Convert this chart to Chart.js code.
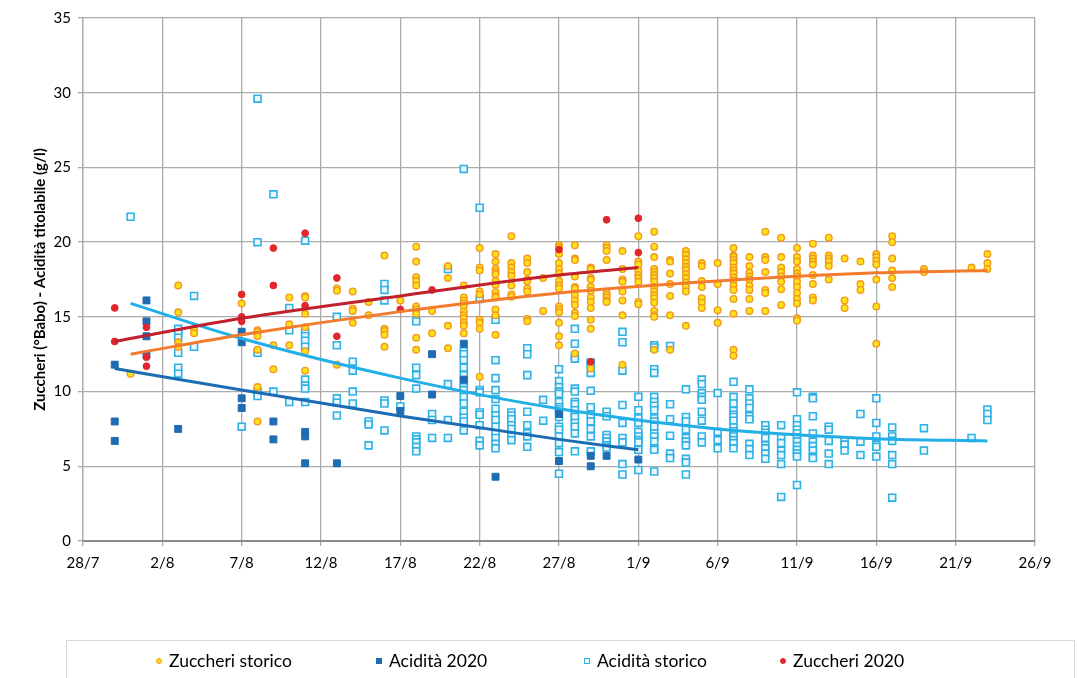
<!DOCTYPE html>
<html>
<head>
<meta charset="utf-8">
<script src="https://cdn.jsdelivr.net/npm/chart.js@4"></script>
<style>
  body { margin: 0; background: #fff; overflow: hidden; }
  #wrap { position: relative; width: 1078px; height: 678px; }
  #legend {
    position: absolute; left: 66px; top: 640px; width: 1009px; height: 60px;
    border: 1px solid #d9d9d9; box-sizing: border-box;
    display: flex; align-items: flex-start; padding: 9px 0 0 89px;
    font-family: Lato, "Open Sans", sans-serif; font-size: 17.5px; color: #000;
  }
  #legend .item { display: flex; align-items: center; white-space: nowrap; }
  #legend .mark { width: 6px; height: 6px; margin-right: 7px; box-sizing: border-box; }
</style>
</head>
<body>
<div id="wrap">
  <canvas id="mainChart" width="1078" height="678"></canvas>
  <div id="legend"></div>
</div>
<script>
// --- Data ---
const xTickLabels = ['28/7', '2/8', '7/8', '12/8', '17/8', '22/8', '27/8', '1/9', '6/9', '11/9', '16/9', '21/9', '26/9'];

// Zuccheri storico
const zsDates = ['31/7', '3/8', '4/8', '7/8', '8/8', '9/8', '10/8', '11/8', '13/8', '14/8', '15/8', '16/8', '17/8',
    '18/8', '19/8', '20/8', '21/8', '22/8', '23/8', '24/8', '25/8', '26/8', '27/8', '28/8', '29/8', '30/8', '31/8',
    '1/9', '2/9', '3/9', '4/9', '5/9', '6/9', '7/9', '8/9', '9/9', '10/9', '11/9', '12/9', '13/9', '14/9', '15/9',
    '16/9', '17/9', '19/9', '22/9', '23/9'];
const zsValues = [
    [11.2],
    [17.1, 15.3, 13.3, 13.0],
    [14.2, 13.9],
    [15.9],
    [14.1, 14.0, 13.7, 12.8, 10.3, 8.0],
    [13.1, 11.5],
    [16.3, 14.5, 13.1],
    [16.4, 16.3, 15.2, 14.3, 12.7, 11.4],
    [16.9, 16.75, 11.8],
    [16.7, 15.55, 15.4, 14.6],
    [16.0, 15.1],
    [19.1, 14.2, 14.05, 13.8, 13.0],
    [16.1],
    [19.7, 18.7, 17.65, 17.4, 17.1, 15.7, 15.5, 15.2, 13.6, 12.8],
    [15.4, 13.9],
    [18.4, 17.6, 14.4, 12.9],
    [17.1, 16.3, 16.1, 15.9, 15.75, 15.35, 15.1, 14.9, 14.6, 14.4, 13.9],
    [19.6, 18.3, 18.1, 16.7, 16.5, 14.8, 14.6, 14.2, 11.0],
    [19.2, 18.7, 18.2, 18.0, 17.85, 17.4, 17.15, 16.65, 16.4, 16.3, 15.5, 15.1, 13.8],
    [20.4, 18.6, 18.3, 18.0, 17.75, 17.1, 16.5, 16.35],
    [18.9, 18.6, 18.0, 17.5, 17.4, 16.9, 16.7, 14.85, 14.7],
    [17.6, 15.4],
    [19.8, 19.65, 19.2, 18.6, 18.2, 17.9, 17.4, 17.1, 16.9, 15.7, 15.5, 15.3, 14.6, 13.7, 13.1],
    [19.8, 18.9, 18.8, 17.7, 17.0, 16.9, 16.45, 16.1, 15.8, 15.25, 15.05, 12.55],
    [18.3, 18.2, 17.6, 17.5, 17.0, 16.75, 16.3, 16.0, 15.6, 14.8, 14.2, 11.55],
    [19.8, 19.6, 19.4, 18.8, 16.6, 16.45, 16.3, 16.1, 16.0],
    [19.4, 18.2, 17.5, 17.35, 16.7, 16.1, 15.1, 11.8],
    [20.4, 18.7, 18.5, 18.1, 17.8, 17.6, 17.35, 16.0, 15.85],
    [20.7, 19.7, 19.0, 18.2, 18.0, 17.8, 17.6, 17.35, 17.0, 16.7, 16.45, 16.25, 15.95, 15.4, 15.1, 15.0, 12.8],
    [18.8, 18.7, 17.9, 17.2, 16.4, 15.1, 12.8],
    [19.4, 19.15, 18.85, 18.6, 18.35, 18.15, 17.85, 17.6, 17.3, 17.0, 16.7, 14.4],
    [18.6, 18.4, 17.4, 17.0, 16.25, 15.95, 15.6],
    [18.6, 17.2, 15.45, 14.6],
    [19.6, 19.1, 19.0, 18.8, 18.6, 18.3, 18.1, 17.9, 17.65, 17.45, 17.1, 16.8, 16.2, 15.2, 12.8, 12.4],
    [19.0, 18.4, 17.95, 17.7, 17.5, 17.1, 16.8, 16.2, 15.4],
    [20.7, 19.0, 18.8, 18.0, 16.8, 16.6, 15.4],
    [20.3, 19.0, 18.3, 18.0, 17.7, 17.35, 16.85, 15.8],
    [19.6, 19.0, 18.7, 18.2, 17.9, 17.7, 17.35, 17.0, 16.6, 16.2, 15.9, 14.9, 14.75],
    [19.9, 19.1, 18.9, 18.7, 18.5, 17.8, 17.2, 16.3, 16.1],
    [20.3, 19.1, 18.9, 18.7, 18.4, 17.5],
    [18.9, 16.1, 15.6],
    [18.7, 17.2, 16.8],
    [19.2, 19.0, 18.75, 18.5, 17.5, 15.7, 13.2],
    [20.4, 20.0, 18.9, 18.1, 17.6, 17.0],
    [18.2, 18.0],
    [18.3],
    [19.2, 18.6, 18.2]
];

// Acidità 2020
const a20Dates = ['30/7', '1/8', '3/8', '7/8', '9/8', '11/8', '13/8', '17/8', '19/8', '21/8', '23/8', '27/8', '29/8', '30/8', '1/9'];
const a20Values = [
    [11.8, 8.0, 6.7],
    [16.1, 14.7, 13.7, 12.45],
    [7.5],
    [14.0, 13.3, 9.55, 8.9],
    [8.0, 6.8],
    [7.3, 7.0, 5.2],
    [5.2],
    [9.7, 8.7],
    [12.5, 9.8],
    [13.2, 10.8],
    [4.3],
    [8.5, 5.35],
    [5.7, 5.0],
    [5.7],
    [5.45]
];

// Acidità storico
const asDates = ['31/7', '3/8', '4/8', '7/8', '8/8', '9/8', '10/8', '11/8', '13/8', '14/8', '15/8', '16/8', '17/8',
    '18/8', '19/8', '20/8', '21/8', '22/8', '23/8', '24/8', '25/8', '26/8', '27/8', '28/8', '29/8', '30/8', '31/8',
    '1/9', '2/9', '3/9', '4/9', '5/9', '6/9', '7/9', '8/9', '9/9', '10/9', '11/9', '12/9', '13/9', '14/9', '15/9',
    '16/9', '17/9', '19/9', '22/9', '23/9'];
const asValues = [
    [21.7],
    [14.2, 13.9, 13.6, 12.6, 11.6, 11.2],
    [16.4, 13.0],
    [7.65],
    [29.6, 20.0, 12.6, 10.0, 9.7],
    [23.2, 10.0],
    [15.6, 14.1, 9.3],
    [20.1, 14.0, 13.7, 13.4, 13.0, 10.8, 10.4, 10.2, 9.3],
    [15.0, 13.1, 9.55, 9.25, 8.4],
    [12.0, 11.4, 10.0, 9.2],
    [8.0, 7.8, 6.4],
    [17.2, 16.8, 16.1, 9.4, 9.2, 7.4],
    [9.0],
    [14.7, 11.6, 11.1, 10.2, 7.0, 6.8, 6.6, 6.3, 6.0],
    [8.5, 8.1, 6.9],
    [18.2, 10.5, 8.1, 6.9],
    [24.9, 12.7, 12.5, 12.1, 11.6, 11.1, 10.55, 10.3, 10.1, 9.65, 9.2, 8.65, 8.25, 8.0, 7.4],
    [22.3, 16.2, 10.1, 9.95, 8.6, 8.45, 7.75, 6.7, 6.4],
    [14.8, 12.1, 10.9, 10.1, 9.5, 8.85, 8.4, 8.1, 7.65, 7.2, 6.9, 6.5, 6.2],
    [8.6, 8.4, 8.15, 7.75, 7.5, 7.0, 6.75],
    [12.9, 12.5, 11.1, 8.65, 7.75, 7.2, 7.0, 6.3],
    [9.45, 8.05],
    [11.5, 10.7, 10.3, 10.0, 9.85, 9.3, 8.95, 8.8, 8.3, 7.65, 7.45, 7.0, 6.55, 5.95, 4.5],
    [14.2, 13.2, 12.4, 12.2, 10.2, 10.0, 9.3, 9.15, 8.75, 8.45, 8.3, 7.9, 7.65, 7.2, 6.0],
    [11.95, 11.8, 11.25, 10.05, 8.95, 8.45, 8.0, 7.5, 7.0, 6.0],
    [8.65, 8.35, 7.1, 6.9, 6.65, 6.4, 6.25],
    [14.0, 13.3, 11.4, 9.1, 7.9, 6.9, 6.6, 5.15, 4.45],
    [9.65, 8.75, 8.2, 7.9, 7.3, 7.0, 6.75, 6.6, 6.1, 4.75],
    [13.1, 12.95, 11.5, 11.25, 9.65, 9.3, 9.05, 8.75, 8.2, 8.0, 7.65, 7.2, 7.0, 6.65, 6.2, 6.1, 4.65],
    [13.05, 9.15, 8.15, 7.05, 5.85, 5.55],
    [10.15, 8.3, 8.0, 7.45, 6.9, 6.65, 6.4, 5.5, 5.25, 4.45],
    [10.8, 10.5, 9.9, 9.65, 9.45, 8.65, 8.05, 7.0, 6.6],
    [9.9, 7.3, 6.75, 6.2],
    [10.65, 9.65, 9.2, 8.7, 8.45, 8.3, 8.05, 7.6, 7.35, 7.15, 7.0, 6.75, 6.55, 6.2],
    [10.15, 9.55, 9.2, 8.9, 8.35, 8.15, 6.5, 6.15, 5.75],
    [7.75, 7.45, 7.25, 6.9, 6.4, 6.2, 5.85, 5.5],
    [7.75, 6.9, 6.55, 6.05, 5.75, 5.15, 2.95],
    [9.95, 8.15, 7.75, 7.45, 7.2, 6.95, 6.65, 6.35, 6.1, 5.85, 5.65, 3.75],
    [9.65, 9.55, 8.35, 7.2, 6.65, 6.35, 6.05, 5.65, 5.55],
    [7.65, 7.45, 6.7, 5.85, 5.15],
    [6.7, 6.45, 6.05],
    [8.5, 6.65, 5.75],
    [9.55, 7.9, 7.0, 6.45, 6.3, 5.65],
    [7.6, 7.0, 6.7, 5.75, 5.15, 2.9],
    [7.55, 6.05],
    [6.9],
    [8.8, 8.5, 8.1]
];

// Zuccheri 2020
const z20Dates = ['30/7', '1/8', '7/8', '9/8', '11/8', '13/8', '17/8', '19/8', '27/8', '29/8', '30/8', '1/9'];
const z20Values = [
    [15.6, 13.35],
    [14.3, 12.3, 11.7],
    [16.5, 15.0, 14.7],
    [19.6, 17.1],
    [20.6, 15.75],
    [17.6, 13.7],
    [15.5],
    [16.8],
    [19.5],
    [12.0],
    [21.5],
    [21.6, 19.3]
];

// Trend lines
const zsTrendDates = ['31/7', '7/8', '17/8', '27/8', '6/9', '16/9', '23/9'];
const zsTrendValues = [12.5, 13.8, 15.35, 16.6, 17.4, 17.95, 18.1];
const z20TrendDates = ['30/7', '7/8', '17/8', '27/8', '1/9'];
const z20TrendValues = [13.35, 14.9, 16.4, 17.8, 18.3];
const a20TrendDates = ['30/7', '7/8', '17/8', '27/8', '1/9'];
const a20TrendValues = [11.55, 10.1, 8.37, 6.8, 6.1];
const asTrendDates = ['31/7', '7/8', '17/8', '27/8', '6/9', '16/9', '23/9'];
const asTrendValues = [15.9, 13.55, 10.9, 8.85, 7.5, 6.85, 6.7];

// --- Helpers ---
// days since 28/7
function dayOf(label) {
    const [d, m] = label.split('/').map(Number);
    if (m === 7) return d - 28;
    if (m === 8) return d + 3;
    return d + 34;
}

function toPoints(dates, values) {
    const pts = [];
    dates.forEach((dt, i) => {
        values[i].forEach(v => pts.push({ x: dayOf(dt), y: v }));
    });
    return pts;
}

function toLine(dates, values) {
    return dates.map((dt, i) => ({ x: dayOf(dt), y: values[i] }));
}

const FONT = 'Lato, "Open Sans", sans-serif';
const gridColor = '#ababab';

function trend(data, color) {
    return {
        type: 'line',
        label: '',
        data: data,
        borderColor: color,
        borderWidth: 3,
        pointRadius: 0,
        fill: false,
        cubicInterpolationMode: 'monotone',
        order: 0,
        isTrend: true
    };
}

const datasets = [
    {
        label: 'Zuccheri storico',
        data: toPoints(zsDates, zsValues),
        pointStyle: 'circle',
        pointRadius: 3.3,
        backgroundColor: '#FFE11A',
        borderColor: '#F2991F',
        borderWidth: 1.4,
        order: 3
    },
    {
        label: 'Acidità 2020',
        data: toPoints(a20Dates, a20Values),
        pointStyle: 'rect',
        pointRadius: 4.9,
        backgroundColor: '#1F6CB2',
        borderColor: '#1F6CB2',
        borderWidth: 1,
        order: 2
    },
    {
        label: 'Acidità storico',
        data: toPoints(asDates, asValues),
        pointStyle: 'rect',
        pointRadius: 4.9,
        backgroundColor: '#EAF7FD',
        borderColor: '#2FB1E5',
        borderWidth: 1.6,
        order: 4
    },
    {
        label: 'Zuccheri 2020',
        data: toPoints(z20Dates, z20Values),
        pointStyle: 'circle',
        pointRadius: 3.4,
        backgroundColor: '#E1262D',
        borderColor: '#E1262D',
        borderWidth: 1,
        order: 1
    },
    trend(toLine(zsTrendDates, zsTrendValues), '#F37B2D'),
    trend(toLine(z20TrendDates, z20TrendValues), '#C1202C'),
    trend(toLine(a20TrendDates, a20TrendValues), '#1C6CB3'),
    trend(toLine(asTrendDates, asTrendValues), '#22AEE6')
];

const ctx = document.getElementById('mainChart').getContext('2d');
const chart = new Chart(ctx, {
    type: 'scatter',
    data: { datasets: datasets },
    options: {
        responsive: false,
        animation: false,
        layout: { padding: { left: 0, right: 43, top: 18, bottom: 107 } },
        plugins: {
            legend: { display: false },
            tooltip: { enabled: false }
        },
        scales: {
            x: {
                type: 'linear',
                min: 0,
                max: 60,
                afterFit: scale => { scale.height = 30; },
                ticks: {
                    stepSize: 5,
                    padding: 8,
                    color: '#000',
                    font: { family: FONT, size: 15 },
                    maxRotation: 0,
                    callback: (val, idx) => xTickLabels[idx]
                },
                grid: { color: gridColor, lineWidth: 1.3, tickLength: 5, drawTicks: true },
                border: { color: '#8c8c8c', width: 2 }
            },
            y: {
                min: 0,
                max: 35,
                afterFit: scale => { scale.width = 83; },
                ticks: {
                    stepSize: 5,
                    padding: 7,
                    color: '#000',
                    font: { family: FONT, size: 15 }
                },
                grid: { color: gridColor, lineWidth: 1.3, tickLength: 5 },
                border: { color: gridColor, width: 1.3 },
                title: {
                    display: true,
                    text: 'Zuccheri (°Babo) - Acidità titolabile (g/l)',
                    color: '#000',
                    font: { family: FONT, size: 15, weight: 'bold' },
                    padding: { top: 31, bottom: 0 }
                }
            }
        }
    }
});

// --- HTML legend built from the point datasets ---
// width of each legend slot, so the entries sit where the original has them
const legendSlots = [220, 208, 196, 200];
const legendEl = document.getElementById('legend');
chart.data.datasets.filter(ds => !ds.isTrend).forEach((ds, i) => {
    const item = document.createElement('div');
    item.className = 'item';
    item.style.width = legendSlots[i] + 'px';
    const mark = document.createElement('span');
    mark.className = 'mark';
    mark.style.background = ds.backgroundColor;
    mark.style.border = '1.2px solid ' + ds.borderColor;
    if (ds.pointStyle === 'circle') mark.style.borderRadius = '50%';
    item.appendChild(mark);
    item.appendChild(document.createTextNode(ds.label));
    legendEl.appendChild(item);
});
</script>
</body>
</html>
